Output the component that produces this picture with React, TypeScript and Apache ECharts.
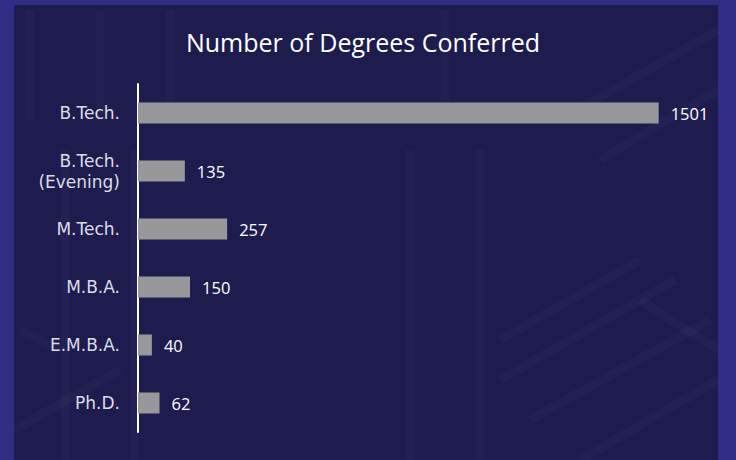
import React, { useEffect, useRef } from "react";
import * as echarts from "echarts";

const categories = ["B.Tech.", "B.Tech.\n(Evening)", "M.Tech.", "M.B.A.", "E.M.B.A.", "Ph.D."];
const degrees = [1501, 135, 257, 150, 40, 62];
const titleText = "Number of Degrees Conferred";

export default function App() {
  const ref = useRef<HTMLDivElement>(null);
  useEffect(() => {
    const chart = echarts.init(ref.current!, undefined, { renderer: "svg" });
    const faint = "rgba(255,255,255,0.025)";
    const deco: any[] = [];
    const vx = [30, 65, 100, 135, 170, 410, 445, 480];
    vx.forEach((x, i) => {
      deco.push({
        type: "line",
        silent: true,
        shape: { x1: x, y1: i % 2 ? 150 : 10, x2: x, y2: i % 2 ? 460 : 120 },
        style: { stroke: faint, lineWidth: 9 },
        z: -1,
      });
    });
    const diag = [
      [500, 340, 640, 260],
      [500, 380, 675, 280],
      [530, 420, 710, 320],
      [580, 460, 718, 380],
      [14, 430, 120, 370],
      [20, 330, 60, 350],
      [560, 120, 718, 30],
      [600, 160, 718, 90],
      [640, 300, 718, 350],
    ];
    diag.forEach((d) => {
      deco.push({
        type: "line",
        silent: true,
        shape: { x1: d[0], y1: d[1], x2: d[2], y2: d[3] },
        style: { stroke: faint, lineWidth: 9 },
        z: -1,
      });
    });
    chart.setOption({
      animation: false,
      backgroundColor: "#2f2d84",
      graphic: [
        {
          type: "rect",
          silent: true,
          shape: { x: 14, y: 5, width: 704, height: 455 },
          style: { fill: "#1e1c4f" },
          z: -2,
        },
        ...deco,
      ],
      title: {
        text: titleText,
        left: 358,
        textAlign: "center",
        top: 24,
        textStyle: {
          color: "#ffffff",
          fontFamily: "Open Sans",
          fontWeight: "normal",
          fontSize: 25,
        },
      },
      grid: { left: 138, right: 43, top: 84, bottom: 28, containLabel: false },
      xAxis: {
        type: "value",
        min: 0,
        max: 1600,
        show: false,
      },
      yAxis: {
        type: "category",
        data: categories,
        inverse: true,
        axisLine: { show: true, lineStyle: { color: "#ffffff", width: 2 } },
        axisTick: { show: false },
        axisLabel: {
          color: "#dcdce6",
          fontFamily: "DejaVu Sans",
          fontSize: 17,
          margin: 18,
          lineHeight: 21,
          align: "right",
        },
        splitLine: { show: false },
      },
      series: [
        {
          type: "bar",
          data: degrees,
          barWidth: 21,
          itemStyle: { color: "#98989a" },
          label: {
            show: true,
            position: "right",
            distance: 12,
            color: "#ffffff",
            fontFamily: "Open Sans",
            fontSize: 16.5,
          },
        },
      ],
    });
    return () => chart.dispose();
  }, []);
  return <div ref={ref} style={{ width: 736, height: 460, position: "absolute", left: 0, top: 0 }} />;
}
